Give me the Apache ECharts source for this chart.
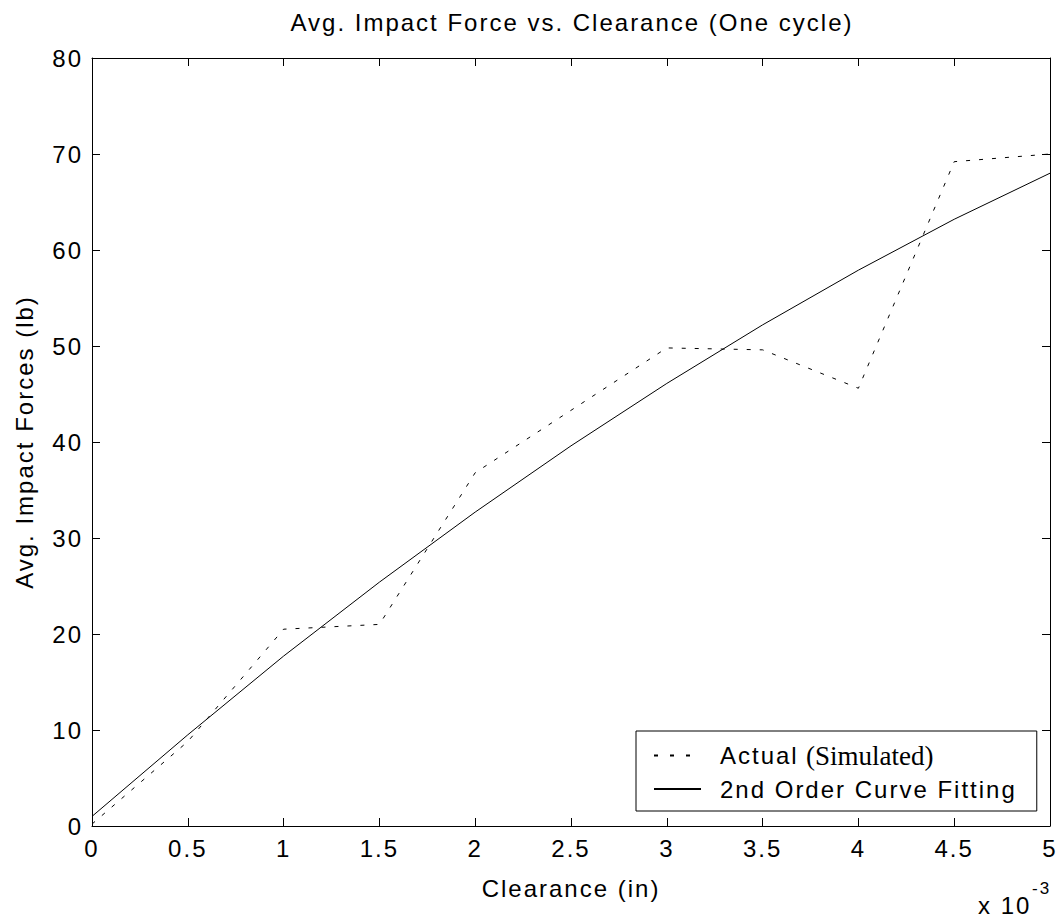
<!DOCTYPE html>
<html>
<head>
<meta charset="utf-8">
<script src="https://cdn.jsdelivr.net/npm/echarts@6/dist/echarts.min.js"></script>
<style>
  body { margin: 0; background: #fff; }
  #main { width: 1063px; height: 920px; letter-spacing: 2px; }
  #main text { letter-spacing: 2px; }
  #main text[style*="Serif"] { letter-spacing: 0; }
</style>
</head>
<body>
<div id="main"></div>
<script>
// clearance in units of 1e-3 in
const clearance = [0, 0.5, 1, 1.5, 2, 2.5, 3, 3.5, 4, 4.5, 5];
// simulated average impact force (lb)
const actualForce = [0.2, 8.8, 20.5, 21.0, 36.8, 43.3, 49.8, 49.6, 45.6, 69.2, 70.0];
// 2nd order fit
const fitForce = [1.0, 9.5, 17.7, 25.4, 32.7, 39.6, 46.1, 52.2, 57.9, 63.2, 68.0];

const FONT = "'Liberation Sans', Arial, Helvetica, sans-serif";
const SERIF = "'Liberation Serif', 'Times New Roman', serif";

const chart = echarts.init(document.getElementById('main'), null, { renderer: 'svg' });

const tickStyle = { show: true, inside: true, length: 8, lineStyle: { color: '#000', width: 1 } };

const option = {
  backgroundColor: '#fff',
  animation: false,
  title: {
    text: 'Avg. Impact Force vs. Clearance (One cycle)',
    left: 567,
    top: 5,
    textAlign: 'center',
    textStyle: { fontFamily: FONT, fontSize: 24, fontWeight: 'normal', color: '#000' }
  },
  grid: { left: 92, right: 13, top: 58, bottom: 94 },
  legend: {
    orient: 'vertical',
    left: 636,
    top: 731,
    padding: [11, 66, 10, 17],
    itemGap: 8,
    itemWidth: 47,
    itemHeight: 14,
    backgroundColor: '#fff',
    borderColor: '#000',
    borderWidth: 1,
    borderRadius: 0,
    itemStyle: { opacity: 0 },
    data: [
      { name: 'Actual', lineStyle: { type: [4, 12] } },
      { name: 'Fit' }
    ],
    formatter: function (name) {
      return name === 'Actual' ? '{c|Actual}{b|(Simulated)}' : '{a|2nd Order Curve Fitting}';
    },
    textStyle: {
      padding: [0, 0, 0, 14],
      rich: {
        a: { fontFamily: FONT, fontSize: 24, color: '#000', lineHeight: 24 },
        c: { fontFamily: FONT, fontSize: 24, color: '#000', lineHeight: 24, width: 86 },
        b: { fontFamily: SERIF, fontSize: 27, color: '#000', lineHeight: 24 }
      }
    }
  },
  xAxis: [{
    type: 'value',
    min: 0,
    max: 5,
    interval: 0.5,
    name: 'Clearance (in)',
    nameLocation: 'middle',
    nameGap: 50,
    nameTextStyle: { fontFamily: FONT, fontSize: 24, color: '#000' },
    axisLine: { show: true, onZero: false, lineStyle: { color: '#000', width: 1 } },
    axisTick: tickStyle,
    axisLabel: { fontFamily: FONT, fontSize: 24, color: '#000', margin: 10 },
    splitLine: { show: false }
  }, {
    type: 'value',
    position: 'top',
    min: 0,
    max: 5,
    interval: 0.5,
    axisLine: { show: true, onZero: false, lineStyle: { color: '#000', width: 1 } },
    axisTick: tickStyle,
    axisLabel: { show: false },
    splitLine: { show: false }
  }],
  yAxis: [{
    type: 'value',
    min: 0,
    max: 80,
    interval: 10,
    name: 'Avg. Impact Forces (lb)',
    nameLocation: 'middle',
    nameGap: 56,
    nameTextStyle: { fontFamily: FONT, fontSize: 24, color: '#000' },
    axisLine: { show: true, onZero: false, lineStyle: { color: '#000', width: 1 } },
    axisTick: tickStyle,
    axisLabel: { fontFamily: FONT, fontSize: 24, color: '#000', margin: 9 },
    splitLine: { show: false }
  }, {
    type: 'value',
    position: 'right',
    min: 0,
    max: 80,
    interval: 10,
    axisLine: { show: true, onZero: false, lineStyle: { color: '#000', width: 1 } },
    axisTick: tickStyle,
    axisLabel: { show: false },
    splitLine: { show: false }
  }],
  graphic: [{
    type: 'text',
    x: 978,
    y: 905,
    style: {
      text: 'x 10',
      font: '24px ' + FONT,
      fill: '#000',
      textAlign: 'left',
      textVerticalAlign: 'middle'
    }
  }, {
    type: 'text',
    x: 1032,
    y: 888,
    style: {
      text: '-3',
      font: '17px ' + FONT,
      fill: '#000',
      textAlign: 'left',
      textVerticalAlign: 'middle'
    }
  }],
  series: [{
    name: 'Actual',
    type: 'line',
    data: clearance.map((x, i) => [x, actualForce[i]]),
    showSymbol: false,
    symbol: 'none',
    lineStyle: { color: '#000', width: 1, type: [4, 9] },
    itemStyle: { color: '#000' }
  }, {
    name: 'Fit',
    type: 'line',
    data: clearance.map((x, i) => [x, fitForce[i]]),
    showSymbol: false,
    symbol: 'none',
    lineStyle: { color: '#000', width: 1 },
    itemStyle: { color: '#000' }
  }]
};

chart.setOption(option);
</script>
</body>
</html>
